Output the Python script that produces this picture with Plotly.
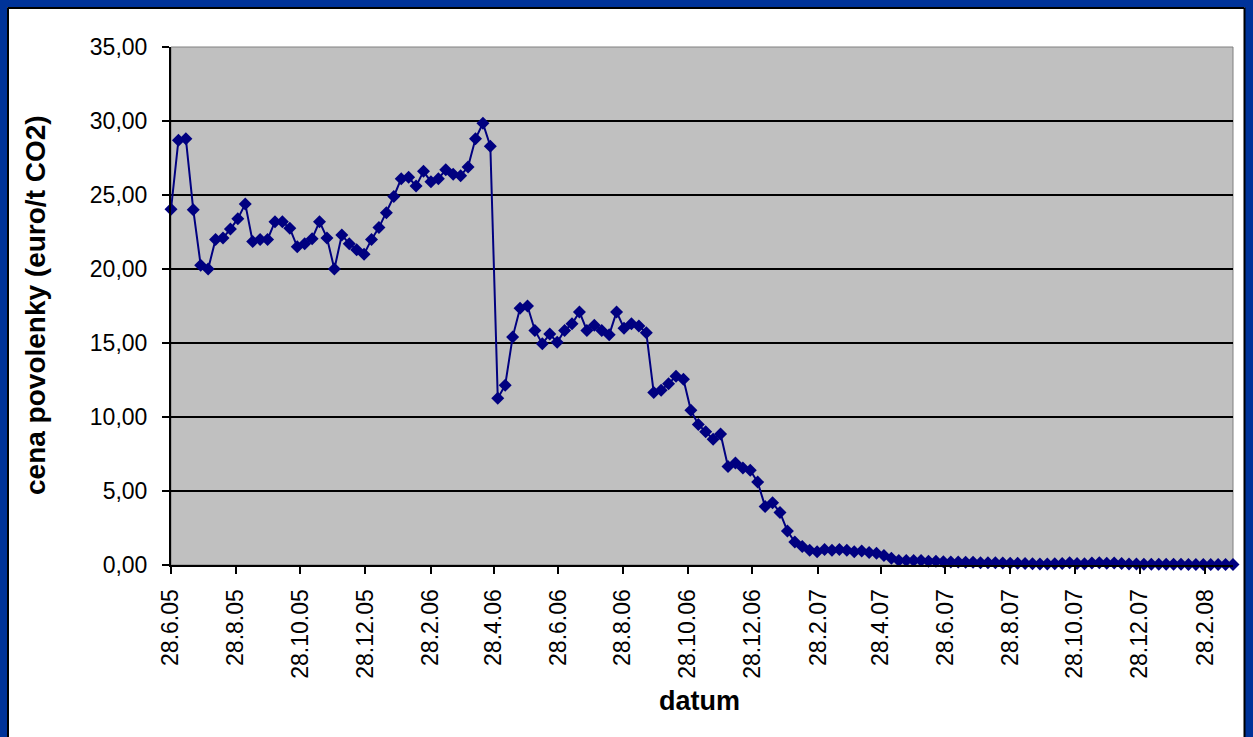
import plotly.graph_objects as go

# weekly observation dates (28.6.2005 - 25.3.2008)
dates = [
    "2005-06-28", "2005-07-05", "2005-07-12", "2005-07-19", "2005-07-26", "2005-08-02", "2005-08-09",
    "2005-08-16", "2005-08-23", "2005-08-30", "2005-09-06", "2005-09-13", "2005-09-20", "2005-09-27",
    "2005-10-04", "2005-10-11", "2005-10-18", "2005-10-25", "2005-11-01", "2005-11-08", "2005-11-15",
    "2005-11-22", "2005-11-29", "2005-12-06", "2005-12-13", "2005-12-20", "2005-12-27",
    "2006-01-03", "2006-01-10", "2006-01-17", "2006-01-24", "2006-01-31", "2006-02-07", "2006-02-14",
    "2006-02-21", "2006-02-28", "2006-03-07", "2006-03-14", "2006-03-21", "2006-03-28", "2006-04-04",
    "2006-04-11", "2006-04-18", "2006-04-25", "2006-05-02", "2006-05-09", "2006-05-16", "2006-05-23",
    "2006-05-30", "2006-06-06", "2006-06-13", "2006-06-20", "2006-06-27", "2006-07-04", "2006-07-11",
    "2006-07-18", "2006-07-25", "2006-08-01", "2006-08-08", "2006-08-15", "2006-08-22", "2006-08-29",
    "2006-09-05", "2006-09-12", "2006-09-19", "2006-09-26", "2006-10-03", "2006-10-10", "2006-10-17",
    "2006-10-24", "2006-10-31", "2006-11-07", "2006-11-14", "2006-11-21", "2006-11-28", "2006-12-05",
    "2006-12-12", "2006-12-19", "2006-12-26",
    "2007-01-02", "2007-01-09", "2007-01-16", "2007-01-23", "2007-01-30", "2007-02-06", "2007-02-13",
    "2007-02-20", "2007-02-27", "2007-03-06", "2007-03-13", "2007-03-20", "2007-03-27", "2007-04-03",
    "2007-04-10", "2007-04-17", "2007-04-24", "2007-05-01", "2007-05-08", "2007-05-15", "2007-05-22",
    "2007-05-29", "2007-06-05", "2007-06-12", "2007-06-19", "2007-06-26", "2007-07-03", "2007-07-10",
    "2007-07-17", "2007-07-24", "2007-07-31", "2007-08-07", "2007-08-14", "2007-08-21", "2007-08-28",
    "2007-09-04", "2007-09-11", "2007-09-18", "2007-09-25", "2007-10-02", "2007-10-09", "2007-10-16",
    "2007-10-23", "2007-10-30", "2007-11-06", "2007-11-13", "2007-11-20", "2007-11-27", "2007-12-04",
    "2007-12-11", "2007-12-18", "2007-12-25",
    "2008-01-01", "2008-01-08", "2008-01-15", "2008-01-22", "2008-01-29", "2008-02-05", "2008-02-12",
    "2008-02-19", "2008-02-26", "2008-03-04", "2008-03-11", "2008-03-18", "2008-03-25",
]

# price of allowance (euro/t CO2)
prices = [
    24.03, 28.70, 28.80, 24.00, 20.25, 20.00, 22.00, 22.10, 22.70, 23.40,
    24.40, 21.85, 22.00, 22.00, 23.20, 23.20, 22.75, 21.50, 21.70, 22.05,
    23.20, 22.10, 20.00, 22.30, 21.70, 21.30, 21.00, 22.00, 22.80, 23.80,
    24.90, 26.10, 26.20, 25.60, 26.60, 25.90, 26.10, 26.70, 26.40, 26.30,
    26.90, 28.80, 29.85, 28.30, 11.26, 12.15, 15.40, 17.35, 17.50, 15.85,
    14.95, 15.60, 15.05, 15.85, 16.30, 17.10, 15.85, 16.20, 15.85, 15.55,
    17.10, 16.00, 16.30, 16.15, 15.70, 11.65, 11.80, 12.25, 12.75, 12.55,
    10.45, 9.50, 9.00, 8.50, 8.85, 6.65, 6.90, 6.55, 6.40, 5.60,
    3.95, 4.20, 3.55, 2.30, 1.55, 1.25, 1.00, 0.90, 1.05, 1.00,
    1.05, 1.00, 0.90, 0.95, 0.85, 0.80, 0.65, 0.45, 0.30, 0.30,
    0.30, 0.30, 0.25, 0.25, 0.22, 0.20, 0.20, 0.18, 0.18, 0.15,
    0.15, 0.15, 0.14, 0.12, 0.12, 0.10, 0.08, 0.07, 0.07, 0.08,
    0.10, 0.15, 0.10, 0.08, 0.14, 0.15, 0.12, 0.14, 0.10, 0.07,
    0.06, 0.05, 0.05, 0.05, 0.05, 0.05, 0.05, 0.04, 0.04, 0.04,
    0.04, 0.04, 0.04, 0.04,
]

tick_dates = ["2005-06-28", "2005-08-28", "2005-10-28", "2005-12-28", "2006-02-28", "2006-04-28",
              "2006-06-28", "2006-08-28", "2006-10-28", "2006-12-28", "2007-02-28", "2007-04-28",
              "2007-06-28", "2007-08-28", "2007-10-28", "2007-12-28", "2008-02-28"]
tick_labels = ["28.6.05", "28.8.05", "28.10.05", "28.12.05", "28.2.06", "28.4.06",
               "28.6.06", "28.8.06", "28.10.06", "28.12.06", "28.2.07", "28.4.07",
               "28.6.07", "28.8.07", "28.10.07", "28.12.07", "28.2.08"]
y_ticks = [0, 5, 10, 15, 20, 25, 30, 35]

W, H = 1253, 737
L, R, T, B = 171, 1233, 47, 565  # plot area in pixels
NAVY = "#000080"
BLUE = "#003399"
FONT = "Arial, Liberation Sans, sans-serif"


def px(x):
    return (x - L) / (R - L)


def py(y):
    return (B - y) / (B - T)


fig = go.Figure()
fig.add_trace(go.Scatter(
    x=dates, y=prices,
    mode="lines+markers",
    line=dict(color=NAVY, width=2),
    marker=dict(symbol="diamond", size=10, color=NAVY),
    cliponaxis=False,
    showlegend=False,
))

shapes = [
    # plot area border (top / right)
    dict(type="rect", xref="paper", yref="paper", x0=0, x1=1, y0=0, y1=1,
         line=dict(color="#808080", width=1), layer="below"),
    # blue frame of the slide
    dict(type="rect", xref="paper", yref="paper", x0=px(0), x1=px(7), y0=py(H), y1=py(0),
         fillcolor=BLUE, line_width=0),
    dict(type="rect", xref="paper", yref="paper", x0=px(0), x1=px(W), y0=py(7), y1=py(0),
         fillcolor=BLUE, line_width=0),
    dict(type="rect", xref="paper", yref="paper", x0=px(1245), x1=px(W), y0=py(H), y1=py(0),
         fillcolor=BLUE, line_width=0),
    dict(type="line", xref="paper", yref="paper", x0=px(8), x1=px(8), y0=py(H), y1=py(7.5),
         line=dict(color="black", width=2)),
    dict(type="line", xref="paper", yref="paper", x0=px(7.5), x1=px(1244.5), y0=py(8), y1=py(8),
         line=dict(color="black", width=2)),
    dict(type="line", xref="paper", yref="paper", x0=px(1244.5), x1=px(1244.5), y0=py(H), y1=py(7.5),
         line=dict(color="black", width=2)),
]

annotations = [
    dict(text="<b>cena povolenky (euro/t CO2)</b>", xref="paper", yref="paper",
         x=px(35), y=py(305), textangle=-90, showarrow=False,
         xanchor="center", yanchor="middle", font=dict(size=28, color="black", family=FONT)),
    dict(text="<b>datum</b>", xref="paper", yref="paper",
         x=px(699), y=py(701), showarrow=False,
         xanchor="center", yanchor="middle", font=dict(size=27, color="black", family=FONT)),
]

fig.update_layout(
    width=W, height=H,
    margin=dict(l=L, r=W - R, t=T, b=H - B),
    paper_bgcolor="white",
    plot_bgcolor="#C0C0C0",
    separators=", ",
    font=dict(family=FONT, size=23, color="black"),
    shapes=shapes,
    annotations=annotations,
    xaxis=dict(
        type="date",
        range=[dates[0], dates[-1]],
        tickmode="array", tickvals=tick_dates, ticktext=tick_labels,
        tickangle=-90,
        ticks="outside", ticklen=7, tickwidth=2, tickcolor="black",
        ticklabelstandoff=6,
        showline=True, linecolor="black", linewidth=2,
        showgrid=False, zeroline=False,
    ),
    yaxis=dict(
        range=[0, 35],
        tickmode="array", tickvals=y_ticks, tickformat=".2f",
        ticks="outside", ticklen=7, tickwidth=2, tickcolor="black",
        ticklabelstandoff=10,
        showline=True, linecolor="black", linewidth=2,
        showgrid=True, gridcolor="black", gridwidth=1.5,
        zeroline=False,
    ),
)

fig.write_html("out.html", config={"displayModeBar": False},
               post_script="document.body.style.margin='0';")
